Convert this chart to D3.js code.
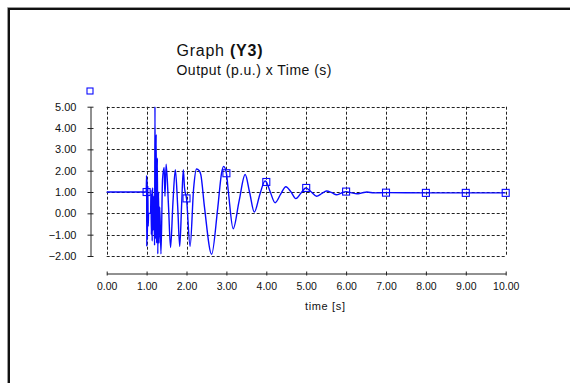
<!DOCTYPE html>
<html>
<head>
<meta charset="utf-8">
<script src="https://cdn.jsdelivr.net/npm/d3@7"></script>
<style>
  html, body { margin: 0; padding: 0; background: #fff; }
  svg { display: block; font-family: "Liberation Sans", Arial, sans-serif; }
</style>
</head>
<body>
<svg id="chart" width="570" height="383"></svg>
<script>
// ---- data ----
const titleMain = "Graph ";
const titleBold = "(Y3)";
const subtitle = "Output (p.u.) x Time (s)";
const xLabel = "time [s]";
const xTicks = [0, 1, 2, 3, 4, 5, 6, 7, 8, 9, 10];
const yTicks = [-2, -1, 0, 1, 2, 3, 4, 5];

const timeS = [0, 0.99, 1.0, 1.005, 1.01, 1.02, 1.03, 1.04, 1.05, 1.10, 1.11, 1.12, 1.13, 1.14, 1.15, 1.16, 1.18, 1.20,
  1.21, 1.22, 1.24, 1.25, 1.27, 1.28, 1.30, 1.31, 1.33, 1.36, 1.40, 1.44, 1.46, 1.49, 1.55, 1.60, 1.66, 1.72, 1.78,
  1.83, 1.88, 1.92, 1.95, 2.00, 2.09, 2.18, 2.25, 2.32, 2.36, 2.45, 2.63, 2.78, 2.88, 2.93, 3.00, 3.05, 3.17, 3.32,
  3.47, 3.58, 3.70, 3.84, 3.97, 4.00, 4.10, 4.22, 4.36, 4.49, 4.62, 4.74, 4.87, 4.99, 5.13, 5.26, 5.39, 5.51, 5.64,
  5.76, 5.88, 6.00, 6.14, 6.27, 6.40, 6.52, 6.70, 7.00, 8.00, 9.00, 10.00];
const outputPU = [1.0, 1.0, 1.78, -1.55, 1.6, -1.2, 1.3, -0.6, 0.0, 0.0, 1.1, -1.0, 0.9, -1.3, 1.2, -0.8, 0.8, -1.5,
  5.0, -1.2, 3.7, -1.4, 2.6, -1.9, 1.0, -1.4, 0.3, -1.9, 1.6, 2.15, 0.8, 2.3, 0.3, -1.6, 0.5, 2.05, 0.3,
  -1.55, 0.5, 2.05, 1.2, 0.7, -1.55, 1.2, 2.08, 2.0, 1.8, 0.3, -1.92, 0.2, 1.9, 2.2, 1.88, 1.0, -0.72, 0.6,
  1.82, 1.0, 0.06, 0.9, 1.52, 1.47, 1.0, 0.5, 0.9, 1.25, 1.0, 0.69, 0.95, 1.19, 1.0, 0.8, 0.93, 1.05, 0.97,
  0.87, 0.95, 1.02, 0.96, 0.92, 0.96, 1.0, 0.96, 0.97, 0.96, 0.96, 0.96];

const markerT = [1, 2, 3, 4, 5, 6, 7, 8, 9, 10];
const markerV = [1.0, 0.7, 1.88, 1.47, 1.19, 1.02, 0.97, 0.96, 0.96, 0.96];

// ---- drawing ----
const svg = d3.select("#chart");
const blue = "#0a0aff";
const fmt = d3.format(".2f");

// window-style frame
svg.append("path").attr("d", "M7.5,383V7.5H570").attr("fill", "none").attr("stroke", "#9a9a9a").attr("stroke-width", 1);
svg.append("path").attr("d", "M9,383V9H570").attr("fill", "none").attr("stroke", "#111").attr("stroke-width", 2);

const x = d3.scaleLinear().domain([0, 10]).range([106.7, 505.7]);
const y = d3.scaleLinear().domain([-2, 5]).range([256, 106.7]);

// title
const t1 = svg.append("text").attr("x", 176.5).attr("y", 56).attr("font-size", 16).attr("fill", "#111")
  .attr("textLength", 86).attr("lengthAdjust", "spacing");
t1.append("tspan").text(titleMain);
t1.append("tspan").attr("font-weight", "bold").text(titleBold);
svg.append("text").attr("x", 176.5).attr("y", 74.5).attr("font-size", 14).attr("fill", "#111")
  .attr("textLength", 155).attr("lengthAdjust", "spacing").text(subtitle);

// grid
const grid = svg.append("g").attr("stroke", "#222").attr("stroke-width", 1).attr("stroke-dasharray", "3,2").attr("fill", "none");
grid.selectAll("line.v").data(xTicks).join("line").attr("class", "v")
  .attr("x1", d => Math.round(x(d)) + 0.5).attr("x2", d => Math.round(x(d)) + 0.5)
  .attr("y1", y(5)).attr("y2", y(-2));
grid.selectAll("line.h").data(yTicks).join("line").attr("class", "h")
  .attr("y1", d => Math.round(y(d)) + 0.5).attr("y2", d => Math.round(y(d)) + 0.5)
  .attr("x1", x(0)).attr("x2", x(10));

// y axis
const yAxis = svg.append("g").attr("transform", "translate(90.5,0)")
  .call(d3.axisLeft(y).tickValues(yTicks).tickFormat(fmt).tickSize(3).tickSizeOuter(0).tickPadding(11));
yAxis.select(".domain").attr("stroke", "#222");
yAxis.selectAll(".tick line").attr("x1", 3).attr("stroke", "#222");
yAxis.selectAll(".tick text").attr("font-size", 11).attr("fill", "#111").attr("font-family", "Liberation Sans, Arial, sans-serif");

// x axis
const xAxis = svg.append("g").attr("transform", "translate(0,273.5)")
  .call(d3.axisBottom(x).tickValues(xTicks).tickFormat(fmt).tickSize(2).tickSizeOuter(0).tickPadding(7));
xAxis.select(".domain").attr("stroke", "#222");
xAxis.selectAll(".tick line").attr("y1", -2).attr("stroke", "#222");
xAxis.selectAll(".tick text").attr("font-size", 10.5).attr("fill", "#111").attr("font-family", "Liberation Sans, Arial, sans-serif");

svg.append("text").attr("x", 325).attr("y", 309.5).attr("text-anchor", "middle").attr("font-size", 11).attr("fill", "#111")
  .attr("textLength", 40).attr("lengthAdjust", "spacing").text(xLabel);

// data line
const pts = timeS.map((t, i) => [t, outputPU[i]]);
svg.append("path").datum(pts)
  .attr("fill", "none").attr("stroke", blue).attr("stroke-width", 1.4)
  .attr("d", d3.line().x(d => x(d[0])).y(d => y(d[1])).curve(d3.curveMonotoneX));

// markers
svg.selectAll("rect.m").data(markerT.map((t, i) => [t, markerV[i]])).join("rect").attr("class", "m")
  .attr("x", d => x(d[0]) - 3.5).attr("y", d => y(d[1]) - 3.5).attr("width", 7).attr("height", 7)
  .attr("fill", "none").attr("stroke", blue).attr("stroke-width", 1.1);

// legend marker
svg.append("rect").attr("x", 87).attr("y", 88).attr("width", 6).attr("height", 6)
  .attr("fill", "none").attr("stroke", blue).attr("stroke-width", 1.1);
</script>
</body>
</html>
